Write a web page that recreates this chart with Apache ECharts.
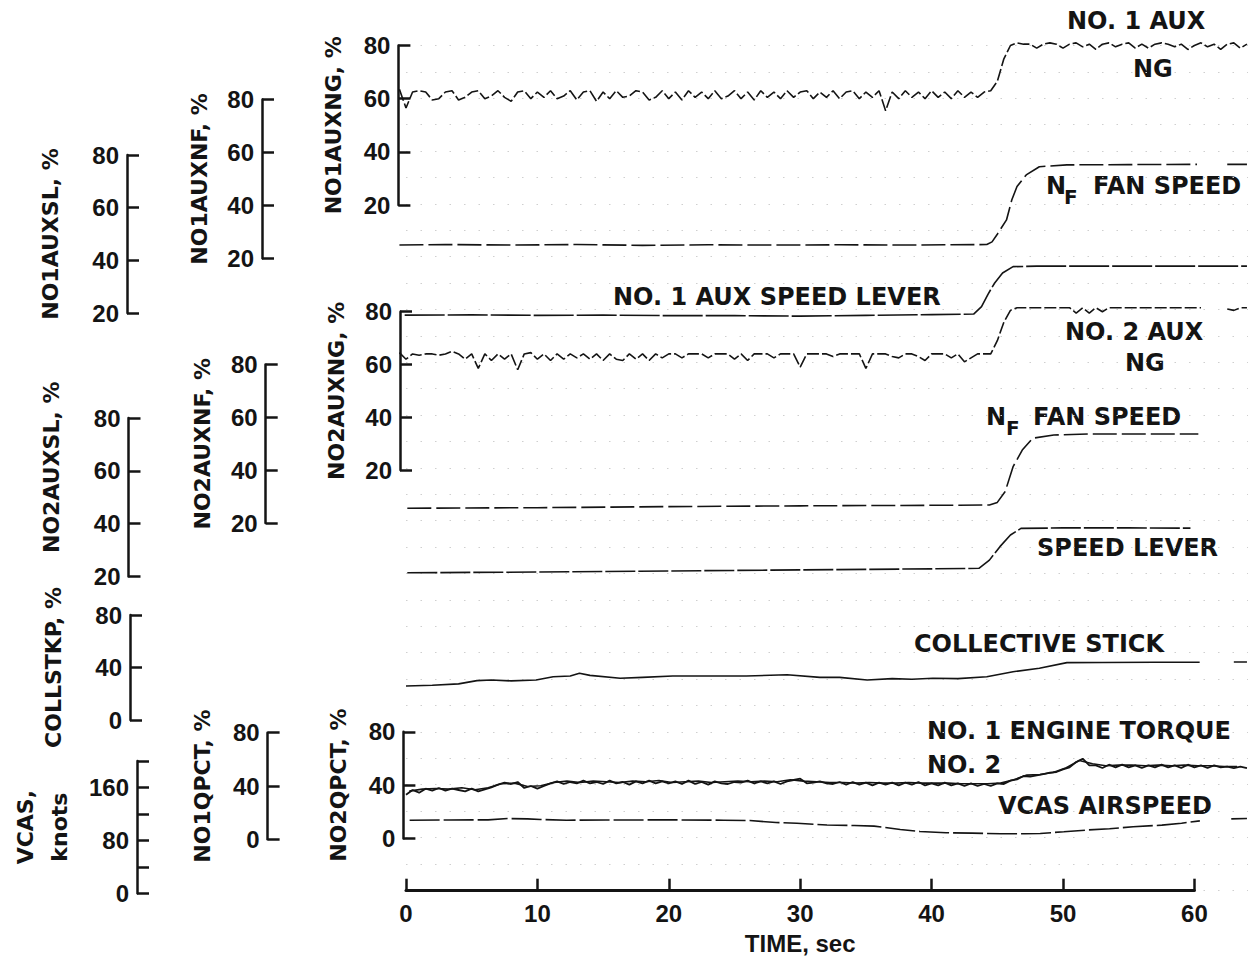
<!DOCTYPE html>
<html>
<head>
<meta charset="utf-8">
<script src="https://cdn.jsdelivr.net/npm/echarts@6/dist/echarts.min.js"></script>
<style>
  html, body { margin: 0; padding: 0; background: #fff; }
  #chart { width: 1248px; height: 960px; }
</style>
</head>
<body>
<div id="chart"></div>
<script>
// ---------------------------------------------------------------
// Recorded flight-test traces, time in seconds.
// Noisy channels are sampled every STEP seconds from their start time;
// smooth channels are listed as [time, value] pairs.
// ---------------------------------------------------------------
const TIME_TICKS = [0, 10, 20, 30, 40, 50, 60];
const STEP = 0.5;

// No. 1 aux gas-generator speed, % (from t = -0.5)
const ng1Start = -0.5;
const ng1Values = [
  63.5, 56.5, 62.5, 63, 62.5, 59.5, 60, 62.5, 63, 59.5,
  60.5, 62.5, 63, 60, 61, 63, 60.5, 59, 62.5, 63,
  60, 62.5, 60.5, 63, 60, 61, 63, 59.5, 62.5, 63,
  59, 62.5, 60, 63, 60.5, 61, 63, 62.5, 59.5, 60.5,
  63, 60, 62.5, 59.5, 63, 60.5, 62.5, 60, 63, 60,
  61, 63, 60, 62.5, 59.5, 63, 60.5, 62.5, 60, 63,
  60.5, 62.5, 63, 60, 62.5, 60.5, 63, 60, 62.5, 63,
  60, 62.5, 60.5, 63, 55.5, 62.5, 60, 63, 60.5, 62.5,
  60, 63, 60.5, 62.5, 60, 63, 60.5, 62.5, 60.5, 62.5,
  63, 66.5, 75, 80, 81, 80.5, 80.5, 79, 80.5, 81,
  80.5, 79, 80.5, 81, 79.5, 80.5, 78.5, 80.5, 81, 79.5,
  80.5, 81, 79, 80.5, 79, 80.5, 81, 80.5, 79.5, 80.5,
  78.5, 80, 81, 79.5, 80.5, 78.5, 80.5, 81, 79, 80.5
];

// No. 2 aux gas-generator speed, % (from t = -0.5)
const ng2Start = -0.5;
const ng2Values = [
  64.5, 62, 64, 63.5, 64, 64, 63.5, 64, 65, 64,
  62, 64, 58.5, 64, 61.5, 64, 62, 64, 58, 64,
  64.5, 62, 64, 61.5, 64, 62, 64, 62.5, 64, 62,
  64, 61.5, 64, 62, 61.5, 64, 62, 64, 61.5, 64,
  62.5, 64, 64, 62.5, 64, 64, 64, 62.5, 64, 64,
  64, 62, 64, 61.5, 64, 64, 64, 62.5, 64, 64,
  64, 59, 64, 64, 64, 64, 63, 64, 64, 64,
  64, 58.5, 64, 64, 64, 63, 62.5, 64, 64, 63,
  61.5, 64, 64, 64, 62.5, 64, 61, 62.5, 64, 64,
  64, 69, 76, 80.5, 81.5, 81.5, 81.5, 81.5, 81.5, 81.5,
  81.5, 81.5, 81.5, 79.5, 81.5, 79.5, 81.5, 80, 81.5, 81.5,
  81.5, 81.5, 81.5, 81.5, 81.5, 81.5, 81.5, 81.5, 81.5, 81.5,
  81.5, 81.5, 81.5, null, null, null, 81, 80.5, 81.5, 81.5
];

// No. 1 engine torque, % (from t = 0, every 0.5 s)
const torque1Start = 0;
const torque1Values = [
  33.5, 37, 35, 38, 36.5, 38.5, 36.5, 38, 37, 36,
  38, 36, 37.5, 39, 41, 42.5, 41.5, 43, 38.5, 40,
  38, 40, 42, 43.5, 41.5, 43, 42, 44, 42, 43,
  41.5, 44, 42, 43, 41, 43.5, 42, 44, 42, 43.5,
  42, 43.5, 41.5, 44, 41.5, 43, 41, 43.5, 42, 41.5,
  43, 42.5, 44, 42, 43.5, 42, 43.5, 41.5, 43.5, 44.5,
  45.5, 42, 42.5, 43.5, 42, 41.5, 43, 41, 43, 41,
  42.5, 40.5, 42.5, 41, 42.5, 40.5, 42.5, 41, 43, 40.5,
  42, 40.5, 42.5, 40.5, 42, 40, 42, 40, 41.5, 40,
  42, 41.5, 44, 45, 47.5, 47, 48, 49, 50, 50.5,
  52.5, 54, 58, 60.5, 55.5, 55.5, 53.5, 56, 54, 56,
  54, 55.5, 53.5, 55.5, 54, 56, 54, 55.5, 53.5, 56,
  54, 55.5, 53.5, 55.5, 54, 54.5, 53.5, 54.5, 53.5
];

// No. 2 engine torque, % (from t = 0.25, every 1 s)
const torque2Start = 0.25;
const torque2Step = 1;
const torque2Values = [
  35.5, 37, 37.5, 37, 38, 36.5, 38, 41, 41.5, 39,
  39.5, 42, 43, 42, 43, 42.5, 42, 43, 42.5, 43.5,
  42, 42.5, 43, 42, 42.5, 43, 42.5, 43, 42.5, 44,
  43, 42.5, 42, 42, 41.5, 42, 41.5, 41.5, 42, 41.5,
  41.5, 41.5, 41, 41, 41, 41.5, 44, 47.5, 48, 49.5,
  53, 58.5, 56, 54.5, 55, 55, 54.5, 55, 54.5, 55,
  54.5, 54.5, 54, 54
];

// No. 1 aux fan speed NF, %
const nf1Points = [
  [-0.5, 25.0], [3, 25.2], [8, 25.0], [13, 25.2], [18, 24.9], [23, 25.1],
  [28, 25.0], [33, 25.1], [38, 25.0], [44.2, 25.2], [44.6, 26.2], [45.0, 29.1],
  [45.7, 34.5], [46.1, 42], [46.5, 47.1], [47.2, 51.5], [48.2, 54.6],
  [50.3, 55.3], [55, 55.4], [60.2, 55.5], [61, null], [62.5, 55.5], [64, 55.5]
];

// No. 1 aux speed lever, %
const sl1Points = [
  [-0.1, 19.2], [5, 19.3], [10, 19.1], [15, 19.2], [20, 19.0], [25, 19.0],
  [30, 18.8], [35, 19.1], [40, 19.4], [43.2, 19.6], [43.8, 22.4], [44.3, 27.2],
  [44.8, 31.4], [45.4, 35.2], [46.2, 37.6], [48, 37.8], [55, 37.8], [64, 37.8]
];

// No. 2 aux fan speed NF, %
const nf2Points = [
  [0.1, 25.6], [10, 25.8], [20, 26.2], [30, 26.5], [40, 26.7], [44.4, 26.8],
  [45.0, 27.8], [45.6, 31.9], [46.2, 41.3], [46.9, 47.6], [47.7, 52.1],
  [49.3, 53.3], [52, 53.7], [60.3, 53.7]
];

// No. 2 aux speed lever, %
const sl2Points = [
  [0.1, 21.4], [10, 21.7], [20, 22.1], [30, 22.5], [40, 22.9], [43.6, 23.1],
  [44.4, 26.2], [45.2, 31.3], [46.0, 35.7], [46.8, 38.2], [50, 38.4],
  [55, 38.4], [59.7, 38.3]
];

// Collective stick position, %
const collPoints = [
  [0, 25.9], [2, 26.5], [4, 27.5], [5.4, 30], [6.5, 30.5], [8, 29.8],
  [9.9, 30.5], [11.2, 33], [12.5, 33.5], [13.2, 35.6], [14, 34], [16.3, 31.8],
  [18, 32.5], [20.3, 33.5], [23, 33.5], [25.9, 33.5], [29, 34.5], [31.5, 32.5],
  [33, 32.5], [35.1, 30.5], [37, 31.5], [38.5, 31], [40.1, 31.8], [42, 31.5],
  [44.2, 33], [46.2, 36.8], [48.2, 39.4], [50.3, 43.7], [53, 43.8], [57, 44],
  [60.4, 44], [61, null], [63, 44.2], [64, 44.2]
];

// Calibrated airspeed, knots
const vcasPoints = [
  [0, 110.5], [3, 110.8], [6, 111], [7.5, 113], [9, 112.5], [10, 111.5],
  [12, 110.5], [15, 110.8], [20, 111], [24, 110.5], [26, 110], [28, 107],
  [29.6, 105.8], [31.9, 103.3], [34, 102.5], [35.5, 101.5], [37.5, 96.5],
  [39, 93.5], [41, 91.5], [43, 91], [45.2, 90], [47, 90], [48.2, 90.5],
  [50, 93], [51.8, 95.7], [53.5, 97.5], [55.3, 100.7], [57.5, 103], [59, 106],
  [60.4, 109.5], [61, null], [62.8, 112.5], [64, 113]
];

// ---------------------------------------------------------------
// Helpers to turn the lists above into [time, value] pairs
// ('-' breaks the line where the recorder trace drops out).
// ---------------------------------------------------------------
function fromSamples(start, step, values) {
  return values.map((v, i) => [start + i * step, v === null ? '-' : v]);
}
function fromPairs(points) {
  return points.map(([t, v]) => [t, v === null ? '-' : v]);
}

// ---------------------------------------------------------------
// Layout
// ---------------------------------------------------------------
const INK = '#141414';
const NUM_FONT = '"Liberation Sans", Arial, Helvetica, sans-serif';
const TXT_FONT = '"DejaVu Sans", "Liberation Sans", sans-serif';

const T0_X = 406;          // pixel position of t = 0
const PX_PER_SEC = 13.14;  // horizontal scale
const XMIN = -1, XMAX = 64;
const GRID_LEFT = T0_X + PX_PER_SEC * XMIN;
const GRID_WIDTH = PX_PER_SEC * (XMAX - XMIN);

// One strip per channel: its own bracket scale on the left.
const panels = [
  { title: 'NO1AUXNG, %', axisX: 398.4, top: 45.5, bottom: 205, min: 20, max: 80, interval: 20, gap: 48,
    data: fromSamples(ng1Start, STEP, ng1Values), dash: [12, 3] },
  { title: 'NO1AUXNF, %', axisX: 262, top: 99.5, bottom: 258.3, min: 20, max: 80, interval: 20, gap: 44,
    data: fromPairs(nf1Points), dash: [24, 5] },
  { title: 'NO1AUXSL, %', axisX: 127, top: 155, bottom: 313, min: 20, max: 80, interval: 20, gap: 60,
    data: fromPairs(sl1Points), dash: [40, 3] },
  { title: 'NO2AUXNG, %', axisX: 400, top: 311.7, bottom: 470, min: 20, max: 80, interval: 20, gap: 47,
    data: fromSamples(ng2Start, STEP, ng2Values), dash: [12, 3] },
  { title: 'NO2AUXNF, %', axisX: 265.7, top: 364.5, bottom: 523, min: 20, max: 80, interval: 20, gap: 46,
    data: fromPairs(nf2Points), dash: [24, 5] },
  { title: 'NO2AUXSL, %', axisX: 128.5, top: 418, bottom: 576.5, min: 20, max: 80, interval: 20, gap: 60,
    data: fromPairs(sl2Points), dash: [30, 3], namePad: [0, 0, 0, 60] },
  { title: 'COLLSTKP, %', axisX: 130, top: 615, bottom: 720, min: 0, max: 80, interval: 40, gap: 60,
    data: fromPairs(collPoints), dash: 'solid' },
  { title: 'VCAS,\nknots', axisX: 133.3, top: 761, bottom: 893.3, min: 0, max: 200, interval: 40, gap: 61,
    data: fromPairs(vcasPoints), dash: [30, 4], labelEvery: 80 },
  { title: 'NO1QPCT, %', axisX: 267.6, top: 732.7, bottom: 839.3, min: 0, max: 80, interval: 40, gap: 48,
    data: fromSamples(torque1Start, STEP, torque1Values), dash: 'solid', width: 1.8 },
  { title: 'NO2QPCT, %', axisX: 403.4, top: 731.8, bottom: 838.4, min: 0, max: 80, interval: 40, gap: 48,
    data: fromSamples(torque2Start, torque2Step, torque2Values), dash: 'solid', width: 1.6 }
];

// Trace call-outs
const annotations = [
  { text: 'NO. 1 AUX', x: 1067, y: 21 },
  { text: 'NG', x: 1133, y: 69 },
  { text: 'N', x: 1046, y: 186 },
  { text: 'F', x: 1064, y: 197, size: 20 },
  { text: 'FAN SPEED', x: 1093, y: 186 },
  { text: 'NO. 1 AUX SPEED LEVER', x: 613, y: 297 },
  { text: 'NO. 2 AUX', x: 1065, y: 332 },
  { text: 'NG', x: 1125, y: 363 },
  { text: 'N', x: 986, y: 417 },
  { text: 'F', x: 1006, y: 428, size: 20 },
  { text: 'FAN SPEED', x: 1033, y: 417 },
  { text: 'SPEED LEVER', x: 1037, y: 548 },
  { text: 'COLLECTIVE STICK', x: 914, y: 644 },
  { text: 'NO. 1 ENGINE TORQUE', x: 927, y: 731 },
  { text: 'NO. 2', x: 927, y: 765 },
  { text: 'VCAS AIRSPEED', x: 998, y: 806 }
];

// ---------------------------------------------------------------
// Build option
// ---------------------------------------------------------------
const grids = [], xAxes = [], yAxes = [], series = [];

// faint chart-paper dot rows
grids.push({ left: 406, top: 45.5, width: 842, height: 844.8 });
xAxes.push({ gridIndex: 0, type: 'value', show: false, min: 0, max: 1 });
yAxes.push({
  gridIndex: 0, type: 'value', min: 0, max: 32, interval: 1,
  axisLine: { show: false }, axisTick: { show: false }, axisLabel: { show: false },
  splitLine: { show: true, lineStyle: { color: '#cfcfcf', width: 1, type: [1.5, 13] } }
});

// time axis
grids.push({ left: T0_X, top: 860, width: PX_PER_SEC * 60, height: 30.7 });
xAxes.push({
  gridIndex: 1, type: 'value', position: 'bottom',
  min: TIME_TICKS[0], max: TIME_TICKS[TIME_TICKS.length - 1], interval: TIME_TICKS[1] - TIME_TICKS[0],
  axisLine: { show: true, onZero: false, lineStyle: { color: INK, width: 3 } },
  axisTick: { show: true, inside: true, length: 12, lineStyle: { color: INK, width: 2.5 } },
  axisLabel: { color: INK, fontFamily: NUM_FONT, fontWeight: 'bold', fontSize: 24, margin: 11 },
  splitLine: { show: false },
  name: 'TIME, sec', nameLocation: 'middle', nameGap: 41,
  nameTextStyle: { color: INK, fontFamily: NUM_FONT, fontWeight: 'bold', fontSize: 24 }
});
yAxes.push({ gridIndex: 1, type: 'value', show: false });

panels.forEach((p) => {
  const gi = grids.length;
  grids.push({ left: GRID_LEFT, width: GRID_WIDTH, top: p.top, height: p.bottom - p.top });
  xAxes.push({ gridIndex: gi, type: 'value', min: XMIN, max: XMAX, show: false, axisLine: { onZero: false } });
  yAxes.push({
    gridIndex: gi, type: 'value', position: 'left',
    offset: GRID_LEFT - p.axisX,
    min: p.min, max: p.max, interval: p.interval,
    axisLine: { show: true, onZero: false, lineStyle: { color: INK, width: 2.5 } },
    axisTick: { show: true, inside: true, length: 12, lineStyle: { color: INK, width: 2.5 } },
    axisLabel: {
      color: INK, fontFamily: NUM_FONT, fontWeight: 'bold', fontSize: 24, margin: 8,
      formatter: (v) => (p.labelEvery ? (v % p.labelEvery === 0 && v < p.max ? String(v) : '') : String(v))
    },
    splitLine: { show: false },
    name: p.title, nameLocation: 'middle', nameRotate: 90, nameGap: p.gap,
    nameTextStyle: {
      color: INK, fontFamily: TXT_FONT, fontWeight: 'bold', fontSize: 22, lineHeight: 34,
      padding: p.namePad || 0
    }
  });
  series.push({
    type: 'line', xAxisIndex: gi, yAxisIndex: gi, data: p.data,
    symbol: 'none', showSymbol: false, clip: false, connectNulls: false, silent: true,
    lineStyle: { color: INK, width: p.width || 1.6, type: p.dash }
  });
});

const graphic = annotations.map((a) => ({
  type: 'text', x: a.x, y: a.y, silent: true,
  style: {
    text: a.text, fill: INK,
    font: 'bold ' + (a.size || 24) + 'px ' + TXT_FONT,
    align: 'left', verticalAlign: 'middle',
    textAlign: 'left', textVerticalAlign: 'middle'
  }
}));

const chart = echarts.init(document.getElementById('chart'), null, { renderer: 'svg', width: 1248, height: 960 });
chart.setOption({
  backgroundColor: '#ffffff',
  animation: false,
  grid: grids,
  xAxis: xAxes,
  yAxis: yAxes,
  series: series,
  graphic: graphic
});
</script>
</body>
</html>
